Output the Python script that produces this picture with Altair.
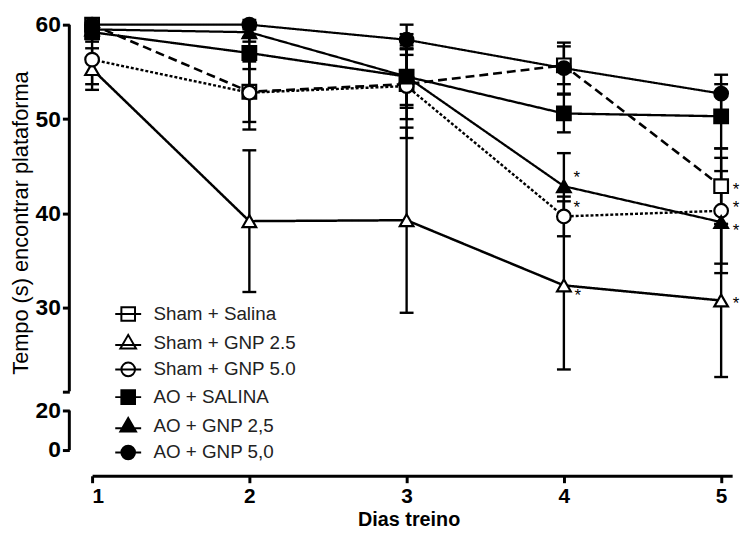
import altair as alt
import pandas as pd

# ---------------- data ----------------
dias = [1, 2, 3, 4, 5]
grupos = ["Sham + Salina", "Sham + GNP 2.5", "Sham + GNP 5.0",
          "AO + SALINA", "AO + GNP 2,5", "AO + GNP 5,0"]

media_sham_salina = [60.0, 52.9, 53.7, 55.7, 42.9]
media_sham_gnp25 = [55.3, 39.2, 39.3, 32.4, 30.8]
media_sham_gnp50 = [56.3, 52.8, 53.5, 39.7, 40.3]
media_ao_salina = [59.2, 57.0, 54.5, 50.6, 50.3]
media_ao_gnp25 = [59.5, 59.2, 54.5, 42.9, 39.1]
media_ao_gnp50 = [60.0, 60.0, 58.4, 55.4, 52.7]

sem_sham_salina = [0.5, 3.2, 3.7, 2.0, 4.0]
sem_sham_gnp25 = [2.2, 7.5, 9.8, 8.9, 8.1]
sem_sham_gnp50 = [2.6, 3.9, 5.5, 2.1, 5.6]
sem_ao_salina = [1.0, 1.7, 3.0, 2.0, 3.4]
sem_ao_gnp25 = [0.8, 1.0, 3.3, 3.5, 5.4]
sem_ao_gnp50 = [0.3, 0.5, 1.6, 2.7, 2.0]

# significance marks (*) : group, day
star_right = [("Sham + Salina", 5), ("Sham + GNP 2.5", 5)]
star_right_hi = [("Sham + GNP 5.0", 5)]
star_right_lo = [("AO + GNP 2,5", 5)]
star_upright = [("AO + GNP 2,5", 4), ("Sham + GNP 5.0", 4)]
star_downright = [("Sham + GNP 2.5", 4)]

y_ticks = [0, 20, 21.2, 30, 40, 50, 60]

# ---------------- tables ----------------
medias = [media_sham_salina, media_sham_gnp25, media_sham_gnp50,
          media_ao_salina, media_ao_gnp25, media_ao_gnp50]
sems = [sem_sham_salina, sem_sham_gnp25, sem_sham_gnp50,
        sem_ao_salina, sem_ao_gnp25, sem_ao_gnp50]
rows = []
for g, m, s in zip(grupos, medias, sems):
    for d, mv, sv in zip(dias, m, s):
        rows.append({"grupo": g, "dia": d, "media": mv,
                     "lo": mv - sv, "hi": mv + sv})
df = pd.DataFrame(rows)


def star_df(lst):
    out = []
    for g, d in lst:
        r = df[(df.grupo == g) & (df.dia == d)].iloc[0]
        out.append({"grupo": g, "dia": d, "media": r.media})
    return pd.DataFrame(out)


# broken y-axis segments (value ranges)
axis_df = pd.DataFrame({"media": [0, 21.2], "hi": [20, 60]})

FONT = "Liberation Sans"

xscale = alt.Scale(domain=[1, 5.07], range=[23, 670], nice=False, zero=False)
yscale = alt.Scale(domain=[0, 20, 21.2, 60], range=[438, 398, 378.5, 8],
                   nice=False, zero=False)

X = alt.X("dia:Q", scale=xscale,
          axis=alt.Axis(values=dias, title="Dias treino", format="d",
                        grid=False, domainWidth=3, domainColor="black",
                        tickColor="black", tickWidth=3, tickSize=7,
                        labelFont=FONT, labelFontSize=21, labelFontWeight="bold",
                        labelColor="black", labelPadding=3,
                        titleFont=FONT, titleFontSize=20, titleFontWeight="bold",
                        titleColor="black", titleX=343, titleY=44,
                        titleBaseline="middle"))

Y = alt.Y("media:Q", scale=yscale,
          axis=alt.Axis(values=y_ticks, title="Tempo (s) encontrar plataforma",
                        labelExpr="datum.value == 21.2 ? '' : datum.label",
                        grid=False, domain=False, tickColor="black", tickWidth=3,
                        tickSize=7, labelFont=FONT, labelFontSize=23,
                        labelFontWeight="bold", labelColor="black", labelPadding=2,
                        titleFont=FONT, titleFontSize=22, titleFontWeight="normal",
                        titleColor="black", titleX=-49, titleY=208,
                        titleBaseline="middle", titleAngle=-90))

base = alt.Chart(df)

lines = base.mark_line(color="black").encode(
    x=X, y=Y,
    detail="grupo:N",
    strokeDash=alt.StrokeDash("grupo:N", legend=None, scale=alt.Scale(
        domain=grupos, range=[[9, 5], [1, 0], [3, 2], [1, 0], [1, 0], [1, 0]])),
    strokeWidth=alt.StrokeWidth("grupo:N", legend=None, scale=alt.Scale(
        domain=grupos, range=[2.6, 2.2, 1.2, 2.2, 2.2, 2.2])),
)

# broken y axis line
axis_lines = alt.Chart(axis_df).mark_rule(color="black", strokeWidth=3).encode(
    x=alt.value(0),
    y=alt.Y("media:Q"),
    y2="hi:Q",
)

err = base.mark_rule(color="black", strokeWidth=2.4).encode(
    x="dia:Q", y=alt.Y("lo:Q"), y2="hi:Q")
cap_lo = base.mark_tick(color="black", orient="horizontal", size=14,
                        thickness=2.4, opacity=1).encode(x="dia:Q", y="lo:Q")
cap_hi = base.mark_tick(color="black", orient="horizontal", size=14,
                        thickness=2.4, opacity=1).encode(x="dia:Q", y="hi:Q")

shapes = ["square", "triangle-up", "circle", "square", "triangle-up", "circle"]
fills = ["white", "white", "white", "black", "black", "black"]
strokes = ["black"] * 6

points = base.mark_point(stroke="black", strokeWidth=2.2, opacity=1,
                         size=190).encode(
    x="dia:Q", y="media:Q",
    shape=alt.Shape("grupo:N", legend=None,
                    scale=alt.Scale(domain=grupos, range=shapes)),
    fill=alt.Fill("grupo:N", legend=None,
                  scale=alt.Scale(domain=grupos, range=fills)),
)

# legend symbols: marker with a short line through it
sq = "M-1.9,0H1.9M-1,-1H1V1H-1Z"
tri = "M-1.9,0.35H1.9M0,-1.15L1.15,0.85H-1.15Z"
ci = "M-1.9,0H1.9M-1,0A1,1 0 1,0 1,0A1,1 0 1,0 -1,0Z"
leg_shapes = [sq, tri, ci, sq, tri, ci]

leg = dict(orient="none", legendX=50, legendY=291, title=None,
           labelFont=FONT, labelFontSize=19, labelColor="#222",
           symbolSize=190, symbolStrokeWidth=2, symbolStrokeColor="black",
           symbolOpacity=1, rowPadding=5, labelOffset=16, symbolOffset=0)

legend_layer = base.transform_filter("false").mark_point(
    stroke="black", strokeWidth=2, opacity=1).encode(
    x="dia:Q", y="media:Q",
    shape=alt.Shape("grupo:N", scale=alt.Scale(domain=grupos, range=leg_shapes),
                    legend=alt.Legend(**leg)),
    fill=alt.Fill("grupo:N", scale=alt.Scale(domain=grupos, range=fills),
                  legend=alt.Legend(**leg)),
    stroke=alt.Stroke("grupo:N", scale=alt.Scale(domain=grupos, range=strokes),
                      legend=alt.Legend(**leg)),
)


def stars(lst, dx, dy):
    return alt.Chart(star_df(lst)).mark_text(
        text="*", font=FONT, fontSize=17, color="black", dx=dx, dy=dy,
        baseline="middle", align="center").encode(x="dia:Q", y="media:Q")


chart = alt.layer(
    lines, axis_lines, err, cap_lo, cap_hi, points, legend_layer,
    stars(star_right, 15, 4), stars(star_right_hi, 15, -3),
    stars(star_right_lo, 15, 9), stars(star_upright, 13, -8),
    stars(star_downright, 14, 11),
).resolve_scale(shape="independent", fill="independent",
                stroke="independent").properties(
    width=680, height=464,
    padding={"left": 62, "top": 6, "right": 4, "bottom": 55},
    autosize=alt.AutoSizeParams(type="none"),
).configure_view(stroke=None)

chart.save("out.html", embed_options={"renderer": "svg", "actions": False})
